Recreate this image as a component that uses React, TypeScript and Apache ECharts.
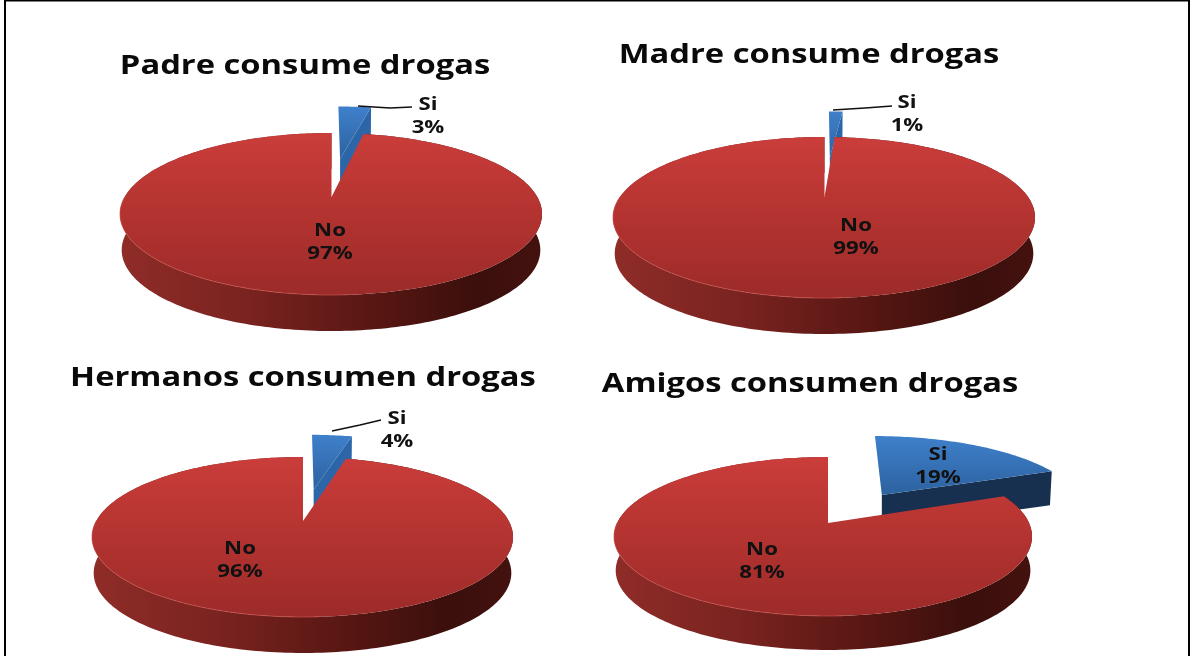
import React, { useEffect, useRef } from "react";
import * as echarts from "echarts";

const categories = ["Si", "No"];
const padreValues = [3, 97];
const madreValues = [1, 99];
const hermanosValues = [4, 96];
const amigosValues = [19, 81];
const chartTitles = ["Padre consume drogas", "Madre consume drogas", "Hermanos consumen drogas", "Amigos consumen drogas"];

const FONT = "'Open Sans', 'Liberation Sans', sans-serif";

const layouts: any[] = [
  { values: padreValues, ax: 331.5, ay: 197, left: 120, right: 542, top: 133, bottom: 295, depth: 36, explode: 0.55,
    cut: "#2d66a8", shift: [-1, 0], spread: 1.12, titleX: 305, titleY: 64,
    siPos: [428, 103], noPos: [330, 229], leader: [[358, 106], [390, 108], [412, 107]] },
  { values: madreValues, ax: 824.5, ay: 197, left: 613, right: 1035, top: 137, bottom: 298, depth: 36, explode: 0.6,
    cut: "#2d66a8", shift: [2, 0], spread: 1.5, titleX: 809, titleY: 53,
    siPos: [907, 101], noPos: [856, 224], leader: [[833, 110], [865, 108], [892, 106]] },
  { values: hermanosValues, ax: 303, ay: 521, left: 92, right: 513, top: 457, bottom: 617, depth: 36, explode: 0.45,
    cut: "#2d66a8", shift: [0, 0], spread: 1, titleX: 303, titleY: 376,
    siPos: [397, 417], noPos: [240, 547], leader: [[332, 431], [360, 425], [381, 420]] },
  { values: amigosValues, ax: 828, ay: 523, left: 614, right: 1032, top: 457, bottom: 616, depth: 34, explode: 0.45,
    cut: "#17304f", shift: [6, -1], spread: 1.04, titleX: 810, titleY: 382,
    siPos: [938, 453], noPos: [762, 548], leader: null },
];

const makeProjector = (l: any) => {
  const up = l.ay - l.top;
  const down = l.bottom - l.ay;
  const k = (down - up) / (down + up);
  const b = down * (1 - k);
  const root = Math.sqrt(1 - k * k);
  const aLeft = (l.ax - l.left) * root;
  const aRight = (l.right - l.ax) * root;
  return (X: number, Y: number): number[] => {
    const w = 1 - k * Y;
    return [l.ax + ((X < 0 ? aLeft : aRight) * X) / w, l.ay + (b * Y) / w];
  };
};

const lg = (x2: number, y2: number, stops: [number, string][]) =>
  new echarts.graphic.LinearGradient(0, 0, x2, y2, stops.map(([offset, color]) => ({ offset, color })));

const pieSeries = (l: any, idx: number) => {
  const project = makeProjector(l);
  const total = l.values.reduce((s: number, v: number) => s + v, 0);
  const siAngle = (l.values[0] / total) * Math.PI * 2;

  const rim = (from: number, to: number, ox = 0, oy = 0) => {
    const pts: number[][] = [];
    const n = Math.max(4, Math.ceil(Math.abs(to - from) / 0.02));
    for (let i = 0; i <= n; i++) {
      const t = from + ((to - from) * i) / n;
      pts.push(project(Math.sin(t) + ox, -Math.cos(t) + oy));
    }
    return pts;
  };
  const lower = (p: number[]) => [l.ax + (p[0] - l.ax) * 0.992, p[1] + l.depth];

  const renderItem = (_p: any, api: any) => {
    const value = api.value(0);
    const frac = value / total;
    const name = categories[api.value(1)];
    const children: any[] = [];
    if (api.value(1) === 0) {
      const mid = siAngle / 2;
      const ox = Math.sin(mid) * l.explode;
      const oy = -Math.cos(mid) * l.explode;
      const origin = project(ox, oy);
      const move = (p: number[]) => [
        origin[0] + (p[0] - origin[0]) * l.spread + l.shift[0],
        p[1] + l.shift[1],
      ];
      const apex = move(origin);
      const arc = rim(0, frac * Math.PI * 2, ox, oy).map(move);
      const end = arc[arc.length - 1];
      children.push({
        type: "polygon",
        shape: { points: [apex, [apex[0], apex[1] + l.depth], lower(end), end] },
        style: { fill: l.cut },
      });
      children.push({
        type: "polygon",
        shape: { points: [apex, ...arc] },
        style: { fill: lg(0, 1, [[0, "#3f80cb"], [1, "#2c629f"]]) },
      });
    } else {
      const arc = rim(siAngle, Math.PI * 2);
      children.push({
        type: "polygon",
        shape: { points: [...arc, ...arc.map(lower).reverse()] },
        style: { fill: lg(1, 0, [[0, "#8f2c28"], [0.3, "#7a2320"], [0.62, "#561612"], [0.85, "#3a0f0c"], [1, "#44120f"]]) },
      });
      children.push({
        type: "polygon",
        shape: { points: [[l.ax, l.ay], ...arc] },
        style: { fill: lg(0, 1, [[0, "#ca3d3a"], [0.5, "#b33330"], [1, "#9c2b29"]]) },
      });
      children.push({
        type: "polyline",
        shape: { points: rim(Math.PI * 1.5, Math.PI * 0.98) },
        style: { stroke: "#c9514c", lineWidth: 1, fill: "none", opacity: 0.7 },
      });
    }
    const pos = api.value(1) === 0 ? l.siPos : l.noPos;
    const textFont = `bold 18.5px ${FONT}`;
    children.push({
      type: "text", x: pos[0], y: pos[1], scaleX: 1.2,
      style: { text: name, fill: "#111", font: textFont, textAlign: "center", textVerticalAlign: "middle" },
    });
    children.push({
      type: "text", x: pos[0], y: pos[1] + 22.5, scaleX: 1.2,
      style: { text: `${value}%`, fill: "#111", font: textFont, textAlign: "center", textVerticalAlign: "middle" },
    });
    if (api.value(1) === 0 && l.leader) {
      children.push({
        type: "polyline",
        shape: { points: l.leader },
        style: { stroke: "#111", lineWidth: 1.5, fill: "none" },
      });
    }
    return { type: "group", children };
  };

  return {
    type: "custom",
    coordinateSystem: "none",
    name: chartTitles[idx],
    silent: true,
    encode: { value: 0 },
    data: l.values.map((v: number, i: number) => [v, i]),
    renderItem,
  };
};

export default function App() {
  const ref = useRef<HTMLDivElement>(null);
  useEffect(() => {
    document.body.style.margin = "0";
    const chart = echarts.init(ref.current!, undefined, { renderer: "svg" });
    chart.setOption({
      animation: false,
      backgroundColor: "#ffffff",
      graphic: [
        { type: "rect", shape: { x: 4, y: 0, width: 2, height: 656 }, style: { fill: "#000" } },
        { type: "rect", shape: { x: 4, y: 0, width: 1186, height: 1.5 }, style: { fill: "#000" } },
        { type: "rect", shape: { x: 1188, y: 0, width: 2, height: 656 }, style: { fill: "#000" } },
        ...layouts.map((l, i) => ({
          type: "text",
          x: l.titleX,
          y: l.titleY,
          scaleX: 1.19,
          style: {
            text: chartTitles[i],
            fill: "#0a0a0a",
            font: `bold 27.5px ${FONT}`,
            textAlign: "center",
            textVerticalAlign: "middle",
          },
        })),
      ],
      series: layouts.map((l, i) => pieSeries(l, i)),
    });
    return () => chart.dispose();
  }, []);
  return <div ref={ref} style={{ position: "absolute", left: 0, top: 0, width: 1193, height: 656, filter: "blur(0.5px)" }} />;
}
